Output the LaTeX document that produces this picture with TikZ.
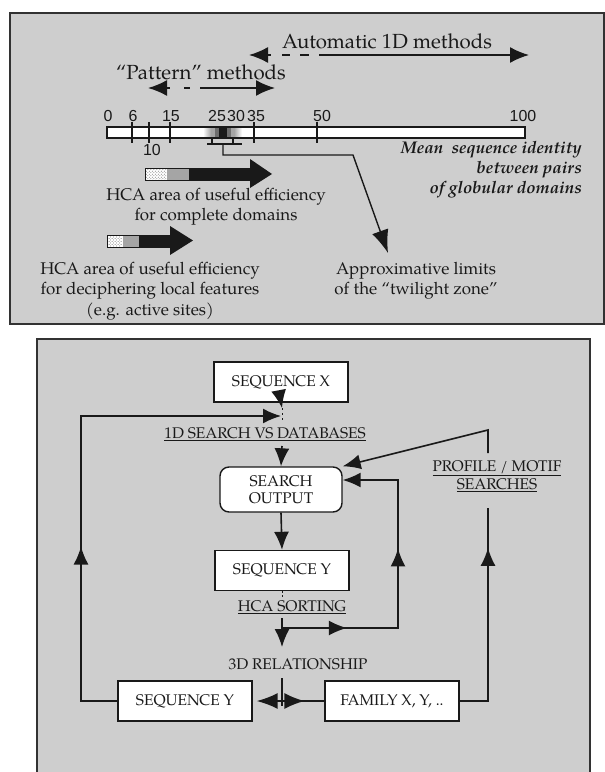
\documentclass[tikz,border=0pt]{standalone}
\usepackage{fontspec}
\setmainfont{texgyrepagella}[Extension=.otf,UprightFont=*-regular,ItalicFont=*-italic,BoldFont=*-bold,BoldItalicFont=*-bolditalic]
\newfontfamily\numfont{Liberation Sans}
\usetikzlibrary{arrows.meta,decorations.markings,patterns}
\definecolor{panelgray}{RGB}{206,206,206}
\definecolor{panelline}{RGB}{50,50,50}
\definecolor{ink}{RGB}{25,25,25}
\definecolor{midgray}{RGB}{165,165,165}
\definecolor{darkgray}{RGB}{110,110,110}
\begin{document}
\begin{tikzpicture}[x=1bp,y=-1bp,
  tipA/.tip={Latex[length=19bp,width=16bp]},
  tipB/.tip={Latex[length=18bp,width=15bp]},
  tipC/.tip={Latex[length=23bp,width=17bp]},
  panel/.style={draw=panelline,line width=1.8bp,fill=panelgray},
  ln/.style={draw=ink,line width=1.6bp},
  arr/.style={ln,-tipB},
  midarr/.style={postaction={decorate,decoration={markings,mark=at position #1 with {\arrow{tipB}}}}},
  txt/.style={inner sep=0pt,text=ink},
  toptxt/.style={txt,font=\fontsize{20.5}{24}\selectfont},
  hcatxt/.style={txt,align=center,font=\fontsize{17}{20.5}\selectfont},
  num/.style={txt,font=\numfont\fontsize{16}{18}\selectfont},
  btxt/.style={txt,font=\fontsize{15.5}{17}\selectfont},
  box/.style={draw=ink,line width=1.4bp,fill=white,inner sep=0pt,minimum width=134bp,minimum height=40bp,text=ink,font=\fontsize{15.5}{17}\selectfont},
]
\useasboundingbox (0,0) rectangle (605,772);
\fill[white] (0,0) rectangle (605,772);

% ---------------- top panel ----------------
\draw[panel] (10,13) rectangle (604,324);

\node[toptxt] (auto) at (387,41) {Automatic 1D methods};
\coordinate (aL) at (249,55);
\coordinate (aR) at (529,55);
\draw[ln,line width=1.8bp,tipA-tipA,dash pattern=on 4bp off 11bp on 8bp off 10bp on 9bp off 10bp on 500bp] (aL) -- (aR);

\node[toptxt] (patt) at (201,72) {“Pattern” methods};
\coordinate (pL) at (148,88);
\coordinate (pR) at (275,88);
\draw[ln,line width=1.8bp,tipA-tipA,dash pattern=on 4bp off 14bp on 6bp off 10bp on 500bp] (pL) -- (pR);

% scale bar
\fill[white] (107,127) rectangle (525,138);
\shade[left color=white,right color=midgray] (203,127) rectangle (211,138);
\fill[midgray] (211,127) rectangle (215,138);
\fill[darkgray] (215,127) rectangle (219,138);
\fill[ink] (219,127) rectangle (227,138);
\fill[darkgray] (227,127) rectangle (231,138);
\fill[midgray] (231,127) rectangle (234,138);
\shade[left color=midgray,right color=white] (234,127) rectangle (242,138);
\draw[ln,line width=1.5bp] (107,127) rectangle (525,138);
\foreach \t in {132,149,170,254,317} \draw[ln,line width=1.2bp] (\t,122) -- (\t,143);
\draw[ln,line width=1.2bp] (212,138) -- (212,144);
\draw[ln,line width=1.2bp] (233,138) -- (233,144);
\draw[ln,line width=1.2bp] (207,144) -- (242,144);

\node[num] (n0) at (108,116) {0};
\node[num] (n6) at (133,116) {6};
\node[num] (n15) at (171,116) {15};
\node[num] (n25) at (217,116) {25};
\node[num] (n30) at (236,116) {30};
\node[num] (n35) at (256,116) {35};
\node[num] (n50) at (322,116) {50};
\node[num] (n100) at (523,116) {100};
\node[num] (n10) at (152,150) {10};

\node[txt,anchor=east,align=right,font=\bfseries\itshape\fontsize{17}{20}\selectfont] (mean) at (582,170) {Mean\ \ sequence identity\\between pairs\\of globular domains};

% pointer to twilight zone
\node[hcatxt] (twi) at (416,281) {Approximative limits\\of the “twilight zone”};
\coordinate (br) at (223,144);
\coordinate (tw) at (388,253);
\draw[ln,line width=1.4bp,-tipC] (br) -- (223,155) -- (353,155) -- (tw);

% HCA arrow 1
\fill[white] (145,168) rectangle (167,180);
\fill[pattern=crosshatch dots,pattern color=darkgray] (146,169) rectangle (166,179);
\fill[midgray] (167,168) rectangle (189,180);
\fill[ink] (189,168) rectangle (251,180);
\draw[ink,line width=1bp] (145,168) rectangle (251,180);
\fill[ink] (250,159) -- (272,174) -- (250,188) -- cycle;
\node[hcatxt] (hca1) at (216,207) {HCA area of useful efficiency\\for complete domains};

% HCA arrow 2
\fill[white] (107,235) rectangle (123,247);
\fill[pattern=crosshatch dots,pattern color=darkgray] (108,236) rectangle (122,246);
\fill[midgray] (123,235) rectangle (139,247);
\fill[ink] (139,235) rectangle (171,247);
\draw[ink,line width=1bp] (107,235) rectangle (171,247);
\fill[ink] (170,226) -- (193,240.5) -- (170,255) -- cycle;
\node[hcatxt] (hca2) at (150,291) {HCA area of useful efficiency\\for deciphering local features\\(e.g. active sites)};

% ---------------- bottom panel ----------------
\fill[panelgray] (37,339) rectangle (590,780);
\draw[panelline,line width=1.8bp] (37,780) -- (37,339) -- (590,339) -- (590,780);

\node[box] (seqX) at (281,382) {SEQUENCE X};
\node[btxt] (s1d) at (265,434) {\underline{1D SEARCH VS DATABASES}};
\node[box,rounded corners=9bp,minimum width=122bp,minimum height=45bp,align=center,font=\fontsize{15.5}{16.5}\selectfont] (so) at (281,489.5) {SEARCH\\OUTPUT};
\node[btxt,align=center,font=\fontsize{15.5}{18.5}\selectfont] (prof) at (497,476) {\underline{PROFILE / MOTIF}\\\underline{SEARCHES}};
\node[box] (seqY) at (282,570.5) {SEQUENCE Y};
\node[btxt] (hcas) at (292,607) {\underline{HCA SORTING}};
\node[btxt] (rel) at (298,664) {3D RELATIONSHIP};
\node[box] (seqY2) at (185,701) {SEQUENCE Y};
\node[box] (fam) at (392,701) {FAMILY X, Y, ..};

% sequence X to search
\coordinate (c1) at (282,408);
\coordinate (c1b) at (282,421);
\draw[arr] (seqX.south) -- (c1);
\draw[ln,line width=0.8bp,dash pattern=on 2bp off 3bp] (c1) -- (c1b);
% left feedback loop
\coordinate (Lb) at (81,701);
\coordinate (Lt) at (81,416);
\coordinate (Le) at (281,416);
\draw[ln,midarr=0.366,-tipB] (seqY2.west) -- (Lb) -- (Lt) -- (Le);
% search to output
\coordinate (c2) at (282,446);
\draw[arr] (c2) -- (so.north);
% profile loop
\coordinate (P1) at (488,508);
\coordinate (Pb) at (488,701);
\draw[ln,midarr=0.82] (fam.east) -- (Pb) -- (P1);
\coordinate (P2) at (488,453);
\coordinate (P3) at (488,430);
\draw[ln,-tipB] (P2) -- (P3) -- (so.north east);
% output to sequence Y
\draw[arr] (so.south) -- (seqY.north);
\coordinate (c3) at (282,598);
\draw[ln,line width=0.8bp,dash pattern=on 2bp off 2bp] (seqY.south) -- (c3);
% HCA sorting
\coordinate (H1) at (282,618);
\coordinate (H2) at (282,647);
\draw[arr] (H1) -- (H2);
\coordinate (H0) at (282,628);
\coordinate (Hr) at (398,628);
\coordinate (Hu) at (398,480);
\draw[ln,midarr=0.203,midarr=0.6125,-tipB] (H0) -- (Hr) -- (Hu) -- ([yshift=9.5bp]so.east);
% bottom row
\coordinate (R1) at (282,678);
\coordinate (R2) at (282,706);
\draw[ln,line width=1.1bp] (R1) -- (R2);
\coordinate (M) at (282,701);
\draw[ln,-{Latex[length=21bp,width=16bp]}] (M) -- ([xshift=4bp]seqY2.east);
\draw[ln,postaction={decorate,decoration={markings,mark=at position 0.53 with {\arrow{Latex[length=20bp,width=16bp]}}}}] (M) -- (fam.west);
\end{tikzpicture}
\end{document}
